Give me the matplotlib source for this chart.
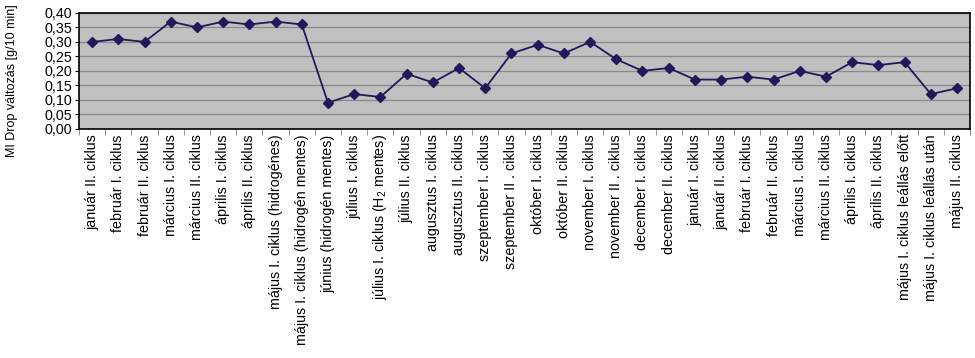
import numpy as np
import matplotlib.pyplot as plt
from matplotlib.ticker import FixedLocator, MultipleLocator, FuncFormatter

plt.rcParams['font.family'] = ['Liberation Sans', 'DejaVu Sans']
plt.rcParams['mathtext.fontset'] = 'custom'
plt.rcParams['mathtext.rm'] = 'Liberation Sans'
plt.rcParams['mathtext.it'] = 'Liberation Sans'

categories = [
    'január II. ciklus', 'február I. ciklus', 'február II. ciklus',
    'március I. ciklus', 'március II. ciklus', 'április I. ciklus',
    'április II. ciklus', 'május I. ciklus (hidrogénes)',
    'május I. ciklus (hidrogén mentes)', 'június (hidrogén mentes)',
    'július I. ciklus', 'július I. ciklus (H$_2$ mentes)', 'július II. ciklus',
    'augusztus I. ciklus', 'augusztus II. ciklus', 'szeptember I. ciklus',
    'szeptember II . ciklus', 'október I. ciklus', 'október II. ciklus',
    'november I. ciklus', 'november II . ciklus', 'december I. ciklus',
    'december II. ciklus', 'január I. ciklus', 'január II. ciklus',
    'február I. ciklus', 'február II. ciklus', 'március I. ciklus',
    'március II. ciklus', 'április I. ciklus', 'április II. ciklus',
    'május I. ciklus leállás előtt', 'május I. ciklus leállás után',
    'május II. ciklus',
]
mi_drop = [0.30, 0.31, 0.30, 0.37, 0.35, 0.37, 0.36, 0.37, 0.36, 0.09,
           0.12, 0.11, 0.19, 0.16, 0.21, 0.14, 0.26, 0.29, 0.26, 0.30,
           0.24, 0.20, 0.21, 0.17, 0.17, 0.18, 0.17, 0.20, 0.18, 0.23,
           0.22, 0.23, 0.12, 0.14]

x = np.arange(len(categories))

fig = plt.figure(figsize=(9.75, 3.58), dpi=100)
ax = fig.add_axes([0.081, 0.64, 0.914, 0.324])
ax.set_facecolor('#C0C0C0')

ax.plot(x, mi_drop, color='#22185A', linewidth=1.3, marker='D',
        markersize=5.5, markerfacecolor='#22185A', markeredgecolor='#22185A',
        zorder=3)

ax.set_xlim(-0.5, len(categories) - 0.5)
ax.set_ylim(0, 0.40)
ax.yaxis.set_major_locator(MultipleLocator(0.05))
ax.yaxis.set_major_formatter(FuncFormatter(lambda v, p: f'{v:.2f}'.replace('.', ',')))
ax.grid(axis='y', color='#8a8a8a', linewidth=0.9, zorder=1)

ax.set_xticks(x)
ax.set_xticklabels(categories, rotation=90, fontsize=10.3)
ax.tick_params(axis='x', which='major', length=0, pad=4)
ax.xaxis.set_minor_locator(FixedLocator(np.arange(-0.5, len(categories), 1.0)))
ax.tick_params(axis='x', which='minor', length=4, color='#808080')
ax.tick_params(axis='y', labelsize=10.3, length=3, pad=2)

for s in ax.spines.values():
    s.set_color('black')
    s.set_linewidth(1.2)

fig.text(12 / 975, 1 - 81 / 358, 'MI Drop változás [g/10 min]', fontsize=9,
         rotation=90, ha='center', va='center')

fig.savefig('out.png', dpi=100)
